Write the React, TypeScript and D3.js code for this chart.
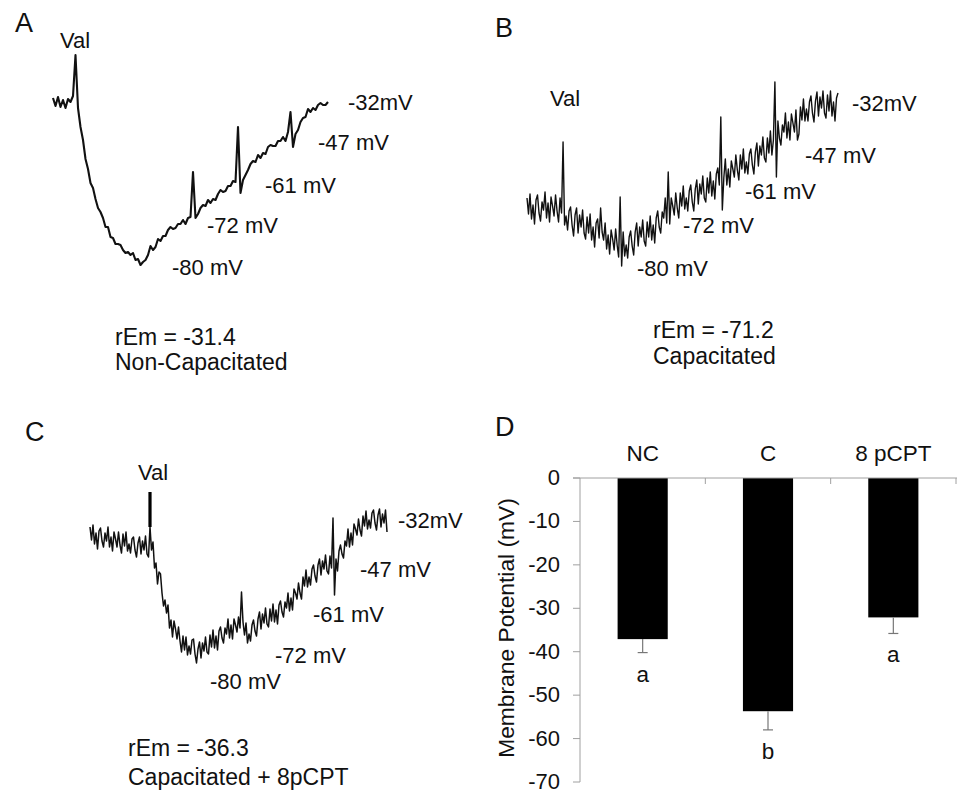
import React from 'react';
import * as d3 from 'd3';

// ---------- DATA ----------
const calibLabels = ['-32mV', '-47 mV', '-61 mV', '-72 mV', '-80 mV'];
const rEmValues = ['-31.4', '-71.2', '-36.3'];
const conditionNames = ['Non-Capacitated', 'Capacitated', 'Capacitated + 8pCPT'];

// fluorescence traces (a.u.), evenly sampled in time
const traceA = [
  182, 174, 183, 173, 180, 172, 181, 178, 184, 225,
  172, 153, 140, 121, 111, 97, 92, 81, 72, 68,
  62, 53, 53, 43, 42, 36, 36, 35, 30, 27,
  28, 25, 27, 20, 21, 15, 18, 20, 25, 34,
  30, 33, 41, 39, 44, 44, 50, 53, 51, 52,
  56, 56, 60, 56, 62, 63, 108, 62, 66, 72,
  75, 74, 80, 77, 81, 80, 86, 90, 88, 89,
  94, 94, 99, 98, 153, 87, 100, 105, 110, 116,
  119, 118, 125, 122, 127, 126, 133, 135, 134, 134,
  139, 139, 143, 139, 148, 168, 133, 146, 150, 158,
  162, 163, 171, 168, 172, 170, 175, 177, 175, 175, 178,
];
const traceB = [
  82, 66, 86, 61, 75, 56, 80, 85, 67, 59,
  78, 70, 88, 62, 77, 58, 83, 74, 64, 85,
  69, 58, 82, 67, 138, 55, 64, 50, 69, 73,
  55, 44, 65, 72, 47, 65, 53, 70, 47, 41,
  63, 47, 66, 40, 53, 33, 57, 61, 42, 72,
  48, 40, 57, 31, 45, 26, 50, 41, 30, 51,
  35, 23, 83, 14, 48, 24, 35, 22, 43, 49,
  34, 25, 48, 57, 34, 53, 43, 60, 39, 34,
  58, 43, 64, 40, 55, 37, 62, 69, 53, 47,
  68, 62, 82, 57, 108, 56, 82, 74, 65, 87,
  72, 62, 87, 74, 94, 71, 82, 69, 89, 95,
  78, 69, 91, 100, 76, 96, 86, 104, 82, 78,
  102, 87, 108, 84, 99, 81, 106, 112, 95, 163,
  70, 102, 121, 95, 111, 93, 119, 111, 103, 125,
  110, 100, 125, 111, 131, 107, 118, 106, 126, 131,
  115, 106, 128, 137, 114, 134, 125, 143, 122, 118,
  142, 127, 149, 125, 140, 198, 103, 159, 142, 135,
  155, 148, 167, 142, 158, 140, 166, 157, 148, 170,
  140, 146, 173, 160, 181, 159, 171, 159, 178, 184,
  167, 158, 179, 188, 164, 183, 172, 189, 167, 162,
  185, 169, 189, 164, 178, 159, 182, 187,
];
const traceC = [
  153, 140, 155, 136, 147, 131, 149, 152, 139, 133,
  147, 139, 153, 133, 143, 129, 148, 141, 133, 148,
  135, 127, 146, 134, 148, 129, 136, 127, 141, 143,
  130, 123, 137, 143, 126, 139, 130, 144, 126, 123,
  153, 130, 138, 112, 117, 96, 108, 106, 87, 74,
  80, 67, 75, 52, 60, 43, 59, 51, 41, 53,
  39, 28, 44, 30, 43, 25, 34, 26, 40, 41,
  26, 17, 31, 38, 22, 37, 29, 43, 28, 26,
  45, 33, 50, 32, 44, 30, 49, 53, 42, 37,
  52, 46, 61, 42, 55, 41, 61, 55, 48, 63,
  52, 88, 58, 45, 57, 37, 46, 39, 55, 60,
  49, 44, 61, 68, 51, 66, 57, 72, 56, 53,
  71, 59, 76, 58, 70, 56, 75, 79, 68, 63,
  78, 72, 87, 69, 82, 70, 91, 87, 81, 97,
  87, 81, 103, 94, 110, 93, 103, 95, 111, 115,
  104, 98, 115, 121, 105, 119, 111, 125, 109, 106,
  124, 112, 162, 85, 121, 109, 129, 135, 126, 122,
  139, 134, 151, 133, 147, 135, 156, 151, 145, 161,
  150, 144, 164, 154, 169, 151, 160, 152, 167, 170,
  157, 150, 165, 171, 153, 166, 157, 170, 148,
];
const valIndexC = 40;
const valBarC = [153, 188];

// bar chart (panel D)
const categories = ['NC', 'C', '8 pCPT'];
const meanEm = [-37.1, -53.7, -32.1];
const semEm = [3.1, 4.3, 3.7];
const sigLetters = ['a', 'b', 'a'];
const yTicks = [0, -10, -20, -30, -40, -50, -60, -70];

// ---------- LAYOUT ----------
const FONT = '"Liberation Sans", Arial, Helvetica, sans-serif';
const panels = [
  {
    letter: 'A', trace: traceA, x0: 53, x1: 328, yBottom: 280, stroke: 2.1,
    letterPos: [15, 32], valPos: [60, 48],
    labelPos: [[348, 110], [318, 150], [265, 193], [207, 233], [172, 275]],
    notePos: [115, 345, 370],
  },
  {
    letter: 'B', trace: traceB, x0: 527, x1: 838, yBottom: 280, stroke: 1.4,
    letterPos: [495, 37], valPos: [550, 106],
    labelPos: [[852, 111], [805, 163], [745, 199], [683, 233], [637, 276]],
    notePos: [653, 338, 364],
  },
  {
    letter: 'C', trace: traceC, x0: 90, x1: 387, yBottom: 680, stroke: 1.5,
    letterPos: [25, 441], valPos: [138, 480],
    labelPos: [[398, 528], [360, 577], [313, 622], [275, 663], [210, 689]],
    notePos: [128, 756, 785],
  },
];

function TracePanel({ p, idx }: { p: any; idx: number }) {
  const xs = d3.scaleLinear().domain([0, p.trace.length - 1]).range([p.x0, p.x1]);
  const ys = d3.scaleLinear().domain([0, 200]).range([p.yBottom, p.yBottom - 200]);
  const line = d3.line<number>().x((_, i) => xs(i)).y((d) => ys(d));
  return (
    <g>
      <text x={p.letterPos[0]} y={p.letterPos[1]} fontSize={27}>{p.letter}</text>
      <text x={p.valPos[0]} y={p.valPos[1]} fontSize={22}>Val</text>
      <path d={line(p.trace) || ''} fill="none" stroke="#111" strokeWidth={p.stroke} strokeLinejoin="round" />
      {idx === 2 && (
        <line x1={xs(valIndexC)} x2={xs(valIndexC)} y1={ys(valBarC[0])} y2={ys(valBarC[1])} stroke="#000" strokeWidth={3.2} />
      )}
      {calibLabels.map((l, i) => (
        <text key={l} x={p.labelPos[i][0]} y={p.labelPos[i][1]} fontSize={22}>{l}</text>
      ))}
      <text x={p.notePos[0]} y={p.notePos[1]} fontSize={23}>{`rEm = ${rEmValues[idx]}`}</text>
      <text x={p.notePos[0]} y={p.notePos[2]} fontSize={23}>{conditionNames[idx]}</text>
    </g>
  );
}

function BarPanel() {
  const x = d3.scaleBand<string>().domain(categories).range([580, 956]).paddingInner(0.6).paddingOuter(0.3);
  const y = d3.scaleLinear().domain([-70, 0]).range([782, 478]);
  const step = x.step();
  const axisColor = '#a0a0a0';
  return (
    <g>
      <text x={495} y={436} fontSize={27}>D</text>
      {/* y axis */}
      <line x1={580} x2={580} y1={y(0)} y2={y(-70)} stroke={axisColor} strokeWidth={1} />
      {yTicks.map((t) => (
        <g key={t}>
          <line x1={573} x2={580} y1={y(t)} y2={y(t)} stroke={axisColor} />
          <text x={560} y={y(t)} dy="0.32em" textAnchor="end" fontSize={22}>{t}</text>
        </g>
      ))}
      {/* bars */}
      {categories.map((c, i) => {
        const cx = (x(c) as number) + x.bandwidth() / 2;
        const yEnd = y(meanEm[i] - semEm[i]);
        return (
          <g key={c}>
            <rect x={x(c)} y={y(0)} width={x.bandwidth()} height={y(meanEm[i]) - y(0)} fill="#000" />
            <line x1={cx} x2={cx} y1={y(meanEm[i])} y2={yEnd} stroke="#777" strokeWidth={1.2} />
            <line x1={cx - 5} x2={cx + 5} y1={yEnd} y2={yEnd} stroke="#777" strokeWidth={1.2} />
            <text x={cx} y={yEnd + 29} textAnchor="middle" fontSize={22.5}>{sigLetters[i]}</text>
            <text x={cx} y={461} textAnchor="middle" fontSize={22.5}>{c}</text>
          </g>
        );
      })}
      {/* x axis at zero */}
      <line x1={573} x2={957} y1={y(0)} y2={y(0)} stroke={axisColor} strokeWidth={1} />
      {categories.map((c, i) => {
        const tx = 580 + (i + 1) * step;
        return <line key={'t' + c} x1={tx} x2={tx} y1={y(0)} y2={y(0) + 6} stroke={axisColor} />;
      })}
      <text transform={`translate(514,628) rotate(-90)`} textAnchor="middle" fontSize={22.8}>Membrane Potential (mV)</text>
    </g>
  );
}

export default function App() {
  return (
    <svg width={957} height={791} style={{ position: 'absolute', left: 0, top: 0, background: '#fff' }} fontFamily={FONT} fill="#111">
      <rect width={957} height={791} fill="#fff" />
      {panels.map((p, i) => <TracePanel key={p.letter} p={p} idx={i} />)}
      <BarPanel />
    </svg>
  );
}
